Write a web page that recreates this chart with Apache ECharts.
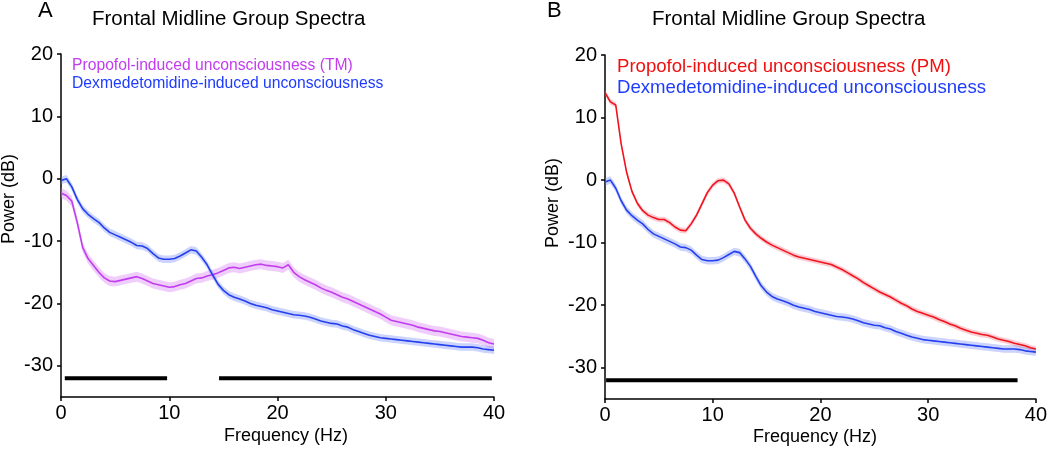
<!DOCTYPE html>
<html>
<head>
<meta charset="utf-8">
<script src="https://cdn.jsdelivr.net/npm/echarts@6/dist/echarts.min.js"></script>
<style>
html,body{margin:0;padding:0;background:#fff;}
#chart{width:1050px;height:451px;}
</style>
</head>
<body>
<div id="chart"></div>
<script>
// Frequency (Hz) sample points
const freq = [0,0.5,1,1.5,2,2.5,3,3.5,4,4.5,5,5.5,6,6.5,7,7.5,8,8.5,9,9.5,10,10.5,11,11.5,12,12.5,13,13.5,14,14.5,15,15.5,16,16.5,17,17.5,18,18.5,19,19.5,20,20.5,21,21.5,22,22.5,23,23.5,24,24.5,25,25.5,26,26.5,27,27.5,28,28.5,29,29.5,30,30.5,31,31.5,32,32.5,33,33.5,34,34.5,35,35.5,36,36.5,37,37.5,38,38.5,39,39.5,40];

// Dexmedetomidine-induced unconsciousness (dB)
const dexPower = [-0.3,0.0,-1.3,-3.3,-4.8,-5.7,-6.4,-7.0,-7.9,-8.6,-9.0,-9.4,-9.8,-10.2,-10.7,-10.8,-11.2,-12.0,-12.7,-12.9,-12.9,-12.8,-12.4,-11.9,-11.4,-11.6,-12.6,-13.8,-15.4,-16.9,-17.9,-18.6,-19.0,-19.3,-19.6,-20.0,-20.3,-20.5,-20.7,-21.0,-21.2,-21.4,-21.6,-21.8,-21.9,-22.0,-22.2,-22.5,-22.8,-23.0,-23.2,-23.3,-23.6,-23.8,-24.2,-24.5,-24.8,-25.1,-25.3,-25.5,-25.6,-25.7,-25.8,-25.9,-26.0,-26.1,-26.2,-26.3,-26.4,-26.5,-26.6,-26.7,-26.8,-26.9,-27.0,-27.0,-27.0,-27.1,-27.3,-27.4,-27.5];

// Propofol-induced unconsciousness (TM) (dB)
const tmPower = [-2.3,-2.7,-3.6,-7.0,-11.0,-12.8,-13.9,-15.0,-15.9,-16.4,-16.5,-16.3,-16.1,-15.9,-15.7,-16.0,-16.4,-16.8,-17.0,-17.2,-17.4,-17.3,-17.0,-16.8,-16.4,-16.0,-15.9,-15.6,-15.4,-15.1,-14.7,-14.3,-14.2,-14.4,-14.2,-14.0,-13.8,-13.7,-13.9,-14.0,-14.1,-14.3,-13.8,-15.0,-15.7,-16.2,-16.6,-17.0,-17.5,-17.9,-18.2,-18.6,-19.0,-19.3,-19.7,-20.1,-20.5,-20.9,-21.3,-21.7,-22.2,-22.7,-22.9,-23.1,-23.3,-23.5,-23.8,-24.0,-24.2,-24.4,-24.5,-24.7,-24.9,-25.1,-25.3,-25.4,-25.5,-25.6,-25.9,-26.3,-26.5];

// Propofol-induced unconsciousness (PM) (dB)
const pmPower = [14.0,12.5,12.0,5.8,1.3,-1.8,-3.7,-4.9,-5.6,-6.0,-6.3,-6.3,-6.8,-7.5,-8.0,-8.1,-7.0,-5.6,-3.8,-2.0,-0.8,-0.1,0.0,-0.6,-2.1,-4.3,-6.4,-7.7,-8.6,-9.3,-9.9,-10.4,-10.8,-11.2,-11.6,-12.0,-12.3,-12.5,-12.7,-12.9,-13.1,-13.3,-13.5,-13.9,-14.3,-14.8,-15.3,-15.8,-16.4,-16.9,-17.4,-17.9,-18.3,-18.7,-19.2,-19.7,-20.1,-20.6,-21.0,-21.3,-21.6,-21.9,-22.3,-22.6,-23.0,-23.3,-23.7,-24.0,-24.3,-24.5,-24.7,-24.8,-25.1,-25.4,-25.6,-25.8,-26.1,-26.3,-26.5,-26.8,-27.0];

// Confidence band half-widths (dB)
const dexHalf = 0.6;
const tmHalf = 0.8;
const pmHalf = 0.45;

// Significance bars: [start Hz, end Hz] at level (dB)
const sigLevel = -32;
const sigBarsA = [[0.35, 9.8], [14.6, 39.8]];
const sigBarsB = [[0.1, 38.3]];

// Axis ticks
const yTicks = [-30, -20, -10, 0, 10, 20];

const titleText = 'Frontal Midline Group Spectra';
const FONT = '"Liberation Sans", Arial, Helvetica, sans-serif';

const C = {
  tm: '#c23cf0', tmBand: 'rgba(215,125,245,0.38)',
  dex: '#2340f0', dexBand: 'rgba(110,130,245,0.35)',
  pm: '#f0141e', pmBand: 'rgba(245,110,130,0.35)'
};

const chart = echarts.init(document.getElementById('chart'));

function pairs(arr) { return freq.map((f, i) => [f, arr[i]]); }

function band(arr, hw, color, idx) {
  return {
    type: 'custom', xAxisIndex: idx, yAxisIndex: idx, silent: true, z: 1,
    data: freq.map((f, i) => [f, arr[i] - hw, arr[i] + hw]),
    encode: { x: 0, y: [1, 2] },
    renderItem: function (params, api) {
      if (params.dataIndex !== 0) return { type: 'group', children: [] };
      const pts = [];
      for (let i = 0; i < freq.length; i++) pts.push(api.coord([freq[i], arr[i] + hw]));
      for (let i = freq.length - 1; i >= 0; i--) pts.push(api.coord([freq[i], arr[i] - hw]));
      return { type: 'polygon', shape: { points: pts }, style: { fill: color } };
    }
  };
}
function mean(name, arr, color, idx) {
  return { type: 'line', name: name, xAxisIndex: idx, yAxisIndex: idx, symbol: 'none', z: 3,
    lineStyle: { color: color, width: 1.6 }, data: pairs(arr) };
}
function bars(list, idx) {
  return list.map(b => ({ type: 'line', xAxisIndex: idx, yAxisIndex: idx, symbol: 'none', z: 3,
    lineStyle: { color: '#000', width: 4, cap: 'butt' }, data: [[b[0], sigLevel], [b[1], sigLevel]] }));
}

function xAxis(gi) {
  return { type: 'value', gridIndex: gi, min: 0, max: 40, interval: 10,
    axisLine: { onZero: false, lineStyle: { color: '#000', width: 1.5 } },
    axisTick: { length: 4, lineStyle: { color: '#000', width: 1.5 } },
    axisLabel: { color: '#000', fontSize: 20, fontFamily: FONT, margin: 6 },
    splitLine: { show: false } };
}
function yAxis(gi) {
  return { type: 'value', gridIndex: gi, min: -35, max: 20,
    axisLine: { show: true, onZero: false, lineStyle: { color: '#000', width: 1.5 } },
    axisTick: { show: true, length: 4, customValues: yTicks, lineStyle: { color: '#000', width: 1.5 } },
    axisLabel: { color: '#000', fontSize: 20, fontFamily: FONT, margin: 8, customValues: yTicks },
    splitLine: { show: false } };
}

function txt(x, y, s, color, size, align, rot) {
  return { type: 'text', x: x, y: y, rotation: rot || 0,
    style: { text: s, fill: color, font: size + 'px ' + FONT, verticalAlign: 'middle', align: align || 'left' } };
}

const option = {
  backgroundColor: '#fff',
  animation: false,
  grid: [
    { left: 61, top: 54, width: 433, height: 343 },
    { left: 605, top: 55, width: 436, height: 344 }
  ],
  xAxis: [xAxis(0), xAxis(1)],
  yAxis: [yAxis(0), yAxis(1)],
  series: [].concat(
    [band(tmPower, tmHalf, C.tmBand, 0), band(dexPower, dexHalf, C.dexBand, 0)],
    [mean('tm', tmPower, C.tm, 0), mean('dex', dexPower, C.dex, 0)],
    bars(sigBarsA, 0),
    [band(pmPower, pmHalf, C.pmBand, 1), band(dexPower, dexHalf, C.dexBand, 1)],
    [mean('pm', pmPower, C.pm, 1), mean('dex', dexPower, C.dex, 1)],
    bars(sigBarsB, 1)
  ),
  graphic: [
    txt(38, 11, 'A', '#000', 22),
    txt(92, 19, titleText, '#000', 20.5),
    txt(72, 66, 'Propofol-induced unconsciousness (TM)', C.tm, 15.7),
    txt(72, 84, 'Dexmedetomidine-induced unconsciousness', '#1e3cff', 15.7),
    txt(9, 199, 'Power (dB)', '#000', 18, 'center', Math.PI / 2),
    txt(286, 436, 'Frequency (Hz)', '#000', 18, 'center'),
    txt(547, 11, 'B', '#000', 22),
    txt(652, 19, titleText, '#000', 20.5),
    txt(617, 67, 'Propofol-induced unconsciousness (PM)', '#f01010', 18.6),
    txt(617, 88, 'Dexmedetomidine-induced unconsciousness', '#1e3cff', 18.6),
    txt(553, 203, 'Power (dB)', '#000', 18, 'center', Math.PI / 2),
    txt(815, 437, 'Frequency (Hz)', '#000', 18, 'center')
  ]
};
chart.setOption(option);
</script>
</body>
</html>
